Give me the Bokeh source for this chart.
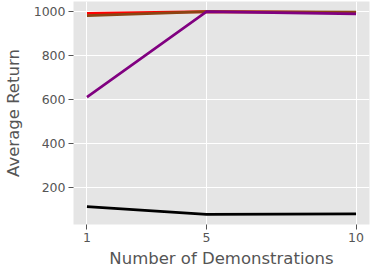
from bokeh.plotting import figure
from bokeh.embed import file_html
from bokeh.resources import INLINE
from bokeh.models import FixedTicker, Range1d

demos = [1, 5, 10]
red_vals = [992, 1000, 996]
brown_vals = [982, 1000, 998]
purple_vals = [612, 1000, 990]
black_vals = [115, 80, 82]
x_ticks = [1, 5, 10]
y_ticks = [200, 400, 600, 800, 1000]

p = figure(width=370, height=270, output_backend="svg", toolbar_location=None,
           x_range=Range1d(0.55, 10.45), y_range=Range1d(34, 1046),
           min_border_left=61, min_border_right=1, min_border_top=1, min_border_bottom=44)
p.background_fill_color = "#E5E5E5"
p.border_fill_color = "white"
p.outline_line_color = None

for vals, col in [(red_vals, "#FF0000"), (brown_vals, "#8B4513"),
                  (purple_vals, "#800080"), (black_vals, "#000000")]:
    p.line(demos, vals, line_color=col, line_width=2.6)

p.xaxis.ticker = FixedTicker(ticks=x_ticks)
p.yaxis.ticker = FixedTicker(ticks=y_ticks)
for ax in (p.xaxis, p.yaxis):
    ax.axis_line_color = None
    ax.major_tick_line_color = "#555555"
    ax.major_tick_in = 0
    ax.major_tick_out = 5
    ax.minor_tick_line_color = None
    ax.major_label_text_color = "#555555"
    ax.major_label_text_font = "DejaVu Sans"
    ax.major_label_text_font_size = "12.5px"
    ax.axis_label_text_color = "#555555"
    ax.axis_label_text_font = "DejaVu Sans"
    ax.axis_label_text_font_size = "16.5px"
    ax.axis_label_text_font_style = "normal"
    ax.major_label_standoff = 3
p.xaxis.axis_label = "Number of Demonstrations"
p.yaxis.axis_label = "Average Return"
p.xaxis.axis_label_standoff = 4
p.yaxis.axis_label_standoff = 8

p.grid.grid_line_color = "white"
p.grid.grid_line_width = 1
p.xgrid.ticker = FixedTicker(ticks=x_ticks)
p.ygrid.ticker = FixedTicker(ticks=y_ticks)

open("out.html", "w").write(file_html(p, INLINE))
